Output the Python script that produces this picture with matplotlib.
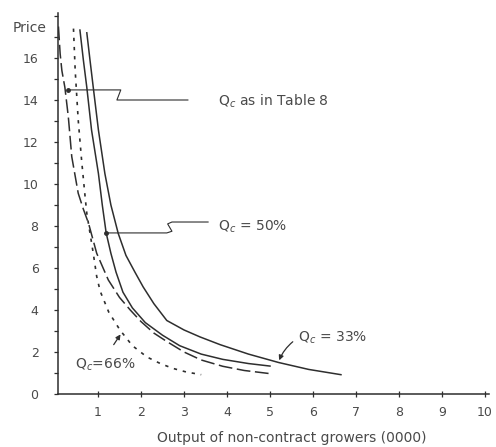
import matplotlib
matplotlib.use("Agg")
import matplotlib.pyplot as plt

# ---- data ----
x_33 = [0.74, 0.82, 0.89, 1.01, 1.16, 1.30, 1.47, 1.65, 1.86, 2.05, 2.30, 2.60, 3.00, 3.37, 3.84, 4.50, 5.20, 5.90, 6.65]
y_33 = [17.2, 15.8, 14.6, 12.57, 10.5, 9.0, 7.65, 6.6, 5.8, 5.1, 4.3, 3.5, 3.05, 2.72, 2.35, 1.90, 1.50, 1.17, 0.92]

x_50 = [0.58, 0.66, 0.74, 0.85, 1.01, 1.10, 1.19, 1.30, 1.42, 1.58, 1.80, 2.10, 2.50, 2.90, 3.40, 3.90, 4.50, 5.00]
y_50 = [17.33, 15.9, 14.6, 12.57, 10.5, 9.0, 7.67, 6.7, 5.8, 4.85, 4.1, 3.4, 2.8, 2.3, 1.9, 1.65, 1.45, 1.33]

x_t8 = [0.08, 0.12, 0.16, 0.23, 0.31, 0.39, 0.54, 0.66, 0.78, 0.97, 1.24, 1.50, 1.75, 2.00, 2.30, 2.60, 3.00, 3.40, 3.90, 4.40, 5.00]
y_t8 = [17.5, 16.2, 15.4, 14.6, 13.2, 11.3, 9.56, 8.8, 8.13, 6.7, 5.43, 4.6, 4.0, 3.45, 2.9, 2.5, 2.0, 1.62, 1.32, 1.12, 0.97]

x_66 = [0.43, 0.47, 0.54, 0.62, 0.70, 0.74, 0.89, 0.97, 1.05, 1.25, 1.51, 1.80, 2.14, 2.45, 2.74, 3.05, 3.40]
y_66 = [17.4, 15.4, 13.05, 11.1, 9.4, 8.6, 6.7, 5.6, 4.9, 3.9, 3.05, 2.3, 1.76, 1.45, 1.22, 1.05, 0.92]

x_ticks = [1, 2, 3, 4, 5, 6, 7, 8, 9, 10]
y_ticks = [0, 2, 4, 6, 8, 10, 12, 14, 16]

ink = "#2e2e2e"
txt = "#4a4a4a"
font = "DejaVu Sans"

fig = plt.figure(figsize=(4.96, 4.47), dpi=100)
ax = fig.add_axes([58 / 496, 53 / 447, 431.3 / 496, 381.15 / 447])
ax.set_xlim(0.07, 10.1)
ax.set_ylim(0, 18.15)

ax.plot(x_33, y_33, color=ink, lw=1.1)
ax.plot(x_50, y_50, color=ink, lw=1.1)
ax.plot(x_t8, y_t8, color=ink, lw=1.1, dashes=(9, 3))
ax.plot(x_66, y_66, color=ink, lw=1.2, dashes=(2, 3.5))

for s in ["top", "right"]:
    ax.spines[s].set_visible(False)
for s in ["left", "bottom"]:
    ax.spines[s].set_color(ink)
    ax.spines[s].set_linewidth(1.1)

ax.set_xticks(x_ticks)
ax.set_xticklabels([str(v) for v in x_ticks], fontfamily=font, fontsize=9, color=txt)
ax.set_yticks(y_ticks)
ax.set_yticklabels([str(v) for v in y_ticks], fontfamily=font, fontsize=9, color=txt)
ax.set_yticks([1, 3, 5, 7, 9, 11, 13, 15, 17, 18], minor=True)
ax.tick_params(axis="x", direction="inout", length=4, width=0.9, color=ink, pad=7)
ax.tick_params(axis="y", which="both", direction="out", length=3, width=0.9, color=ink, pad=11)

# annotations / leaders
ax.plot([0.30, 1.53, 1.44, 3.09], [14.48, 14.48, 14.0, 14.0], color=ink, lw=0.8)
ax.plot([0.30], [14.48], "o", color=ink, ms=2.5)
ax.text(3.79, 13.95, "Q$_c$ as in Table 8", fontfamily=font, fontsize=10, color=txt, va="center")

ax.plot([1.19, 2.60, 2.72, 2.62, 2.72, 3.56], [7.67, 7.67, 7.75, 8.10, 8.19, 8.19], color=ink, lw=0.8)
ax.plot([1.19], [7.67], "o", color=ink, ms=2.5)
ax.text(3.79, 7.95, "Q$_c$ = 50%", fontfamily=font, fontsize=10, color=txt, va="center")

ax.annotate("", xy=(5.19, 1.48), xytext=(5.58, 2.57),
            arrowprops=dict(arrowstyle="-|>", color=ink, lw=0.9, mutation_scale=7,
                            connectionstyle="arc3,rad=0.15"))
ax.text(5.65, 2.67, "Q$_c$ = 33%", fontfamily=font, fontsize=10, color=txt, va="center")

ax.annotate("", xy=(1.56, 2.95), xytext=(1.33, 2.24),
            arrowprops=dict(arrowstyle="-|>", color=ink, lw=0.9, mutation_scale=7))
ax.text(0.47, 1.38, "Q$_c$=66%", fontfamily=font, fontsize=10, color=txt, va="center")

fig.text(30 / 496, 1 - 28 / 447, "Price", fontfamily=font, fontsize=10, color=txt, ha="center", va="center")
fig.text(292 / 496, 1 - 438 / 447, "Output of non-contract growers (0000)", fontfamily=font,
         fontsize=10, color=txt, ha="center", va="center")

fig.savefig("out.png", dpi=100, facecolor="white")
